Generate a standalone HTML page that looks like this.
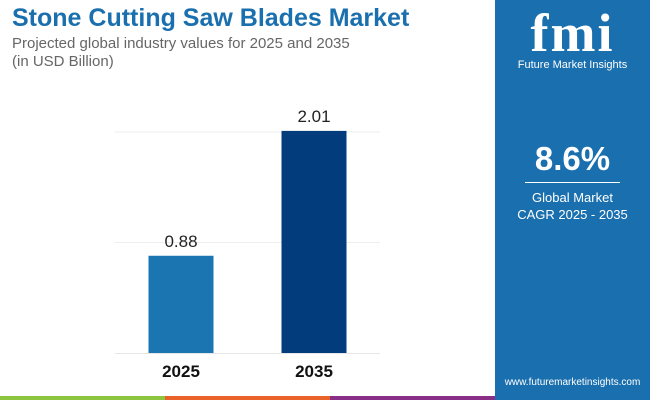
<!DOCTYPE html>
<html><head><meta charset="utf-8"><style>
body{margin:0;width:650px;height:400px;overflow:hidden;font-family:"Liberation Sans",sans-serif;background:#fff;position:relative}
.abs{position:absolute}
</style></head><body>
<div class="abs" style="left:12px;top:4px;font-size:25px;font-weight:bold;color:#1a6fae">Stone Cutting Saw Blades Market</div>
<div class="abs" style="left:12px;top:35px;font-size:15px;color:#666;line-height:18px">Projected global industry values for 2025 and 2035<br>(in USD Billion)</div>
<svg class="abs" style="left:0;top:0" width="495" height="396" id="chart"></svg>
<div class="abs" style="left:495px;top:0;width:155px;height:400px;background:#1a6fae">
  <div class="abs" style="left:0;width:155px;top:2px;text-align:center;color:#fff;font-size:54px;font-weight:bold;font-family:'Liberation Serif',serif;letter-spacing:2px">fmi</div>
  <div class="abs" style="left:0;width:155px;top:59px;text-align:center;color:#fff;font-size:11px">Future Market Insights</div>
  <div class="abs" style="left:0;width:155px;top:140px;text-align:center;color:#fff;font-size:33px;font-weight:bold">8.6%</div>
  <div class="abs" style="left:30px;width:95px;top:182px;height:1px;background:#fff"></div>
  <div class="abs" style="left:0;width:155px;top:189px;text-align:center;color:#fff;font-size:13px;line-height:17px">Global Market<br>CAGR 2025 - 2035</div>
  <div class="abs" style="left:0;width:155px;top:377px;text-align:center;color:#fff;font-size:10px">www.futuremarketinsights.com</div>
</div>
<div class="abs" style="left:0;top:396px;width:165px;height:4px;background:#8cc63f"></div>
<div class="abs" style="left:165px;top:396px;width:165px;height:4px;background:#e8622a"></div>
<div class="abs" style="left:330px;top:396px;width:165px;height:4px;background:#8a2f88"></div>
<script>
const categories=["2025","2035"];
const values=[0.88,2.01];
const labels=["0.88","2.01"];
const gridValues=[1,2];
const colors=["#1a75b0","#023c7c"];
const svg=document.getElementById('chart');
const NS="http://www.w3.org/2000/svg";
const base=353, unit=110.5;
const y=v=>base-v*unit;
const xc=i=>181+i*133;
function mk(t,a){const e=document.createElementNS(NS,t);for(const k in a)e.setAttribute(k,a[k]);svg.appendChild(e);return e;}
gridValues.forEach(g=>{const l=mk('line',{x1:115,x2:380,y1:y(g),y2:y(g),stroke:'#eee','stroke-width':1});

});
const ax=mk('line',{x1:115,x2:380,y1:base+0.5,y2:base+0.5,stroke:'#e6e6e6','stroke-width':1});


values.forEach((v,i)=>{
 const r=mk('rect',{x:xc(i)-32.5,y:y(v),width:65,height:v*unit,fill:colors[i]});
 
 
 const t=mk('text',{x:xc(i),y:y(v)-9,'text-anchor':'middle','font-size':17,fill:'#222','font-family':'Liberation Sans'});
 t.textContent=labels[i];
 
 
 const c=mk('text',{x:xc(i),y:377,'text-anchor':'middle','font-size':17,'font-weight':'bold',fill:'#111','font-family':'Liberation Sans'});
 c.textContent=categories[i];
 
 
});
</script>
</body></html>
